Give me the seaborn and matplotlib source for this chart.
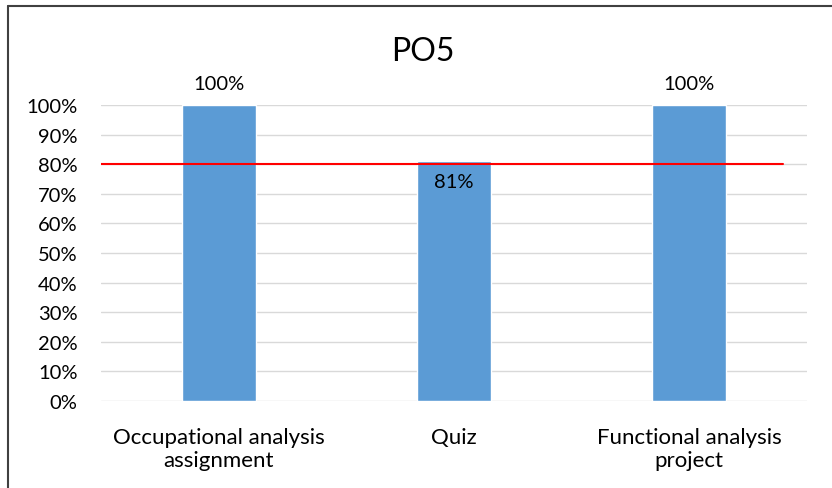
import matplotlib
matplotlib.use("Agg")
import matplotlib.pyplot as plt
import seaborn as sns
import pandas as pd
from matplotlib.lines import Line2D

categories = ["Occupational analysis\nassignment", "Quiz", "Functional analysis\nproject"]
scores = [100, 81, 100]
target = 80

sns.set_style("white")
plt.rcParams["font.family"] = ["Lato", "DejaVu Sans"]
plt.rcParams["text.color"] = "black"
plt.rcParams["xtick.color"] = "black"
plt.rcParams["ytick.color"] = "black"

df = pd.DataFrame({"item": categories, "score": scores})

fig = plt.figure(figsize=(8.32, 4.89), dpi=100)
ax = fig.add_axes([101 / 832, 1 - 402 / 489, 706 / 832, 296 / 489])

sns.barplot(data=df, x="item", y="score", color="#5B9BD5", width=0.315,
            saturation=1, ax=ax, zorder=3)

ax.set_xlim(-0.5, 2.5)
ax.set_ylim(0, 100)
ax.set_yticks(range(0, 101, 10))
ax.set_yticklabels([f"{v}%" for v in range(0, 101, 10)], fontsize=14.5)
ax.tick_params(axis="x", labelsize=16, length=0, pad=19)
ax.tick_params(axis="y", length=0, pad=17)
for lbl in ax.get_xticklabels():
    lbl.set_linespacing(1.15)
ax.grid(axis="y", color="#D9D9D9", linewidth=1, zorder=0)
ax.set_axisbelow(True)
for s in ax.spines.values():
    s.set_visible(False)
ax.set_xlabel("")
ax.set_ylabel("")

# target line
ax.plot([-0.5, 2.398], [target, target], color="#FF0000", linewidth=1.5, zorder=4)

# value labels
for i, v in enumerate(scores):
    if v >= 95:
        ax.text(i, v + 4.5, f"{v}%", ha="center", va="bottom", fontsize=14.5)
    else:
        ax.text(i, v - 4, f"{v}%", ha="center", va="top", fontsize=14.5, zorder=5)

fig.text(0.5 + 7 / 832, 1 - 52 / 489, "PO5", ha="center", va="center", fontsize=23)

# outer frame (left and top edges visible)
fig.add_artist(Line2D([8 / 832, 8 / 832], [0, 1 - 7 / 489], color="#404040", linewidth=1.5))
fig.add_artist(Line2D([8 / 832, 1], [1 - 7 / 489, 1 - 7 / 489], color="#404040", linewidth=1.5))

fig.savefig("out.png", dpi=100)
